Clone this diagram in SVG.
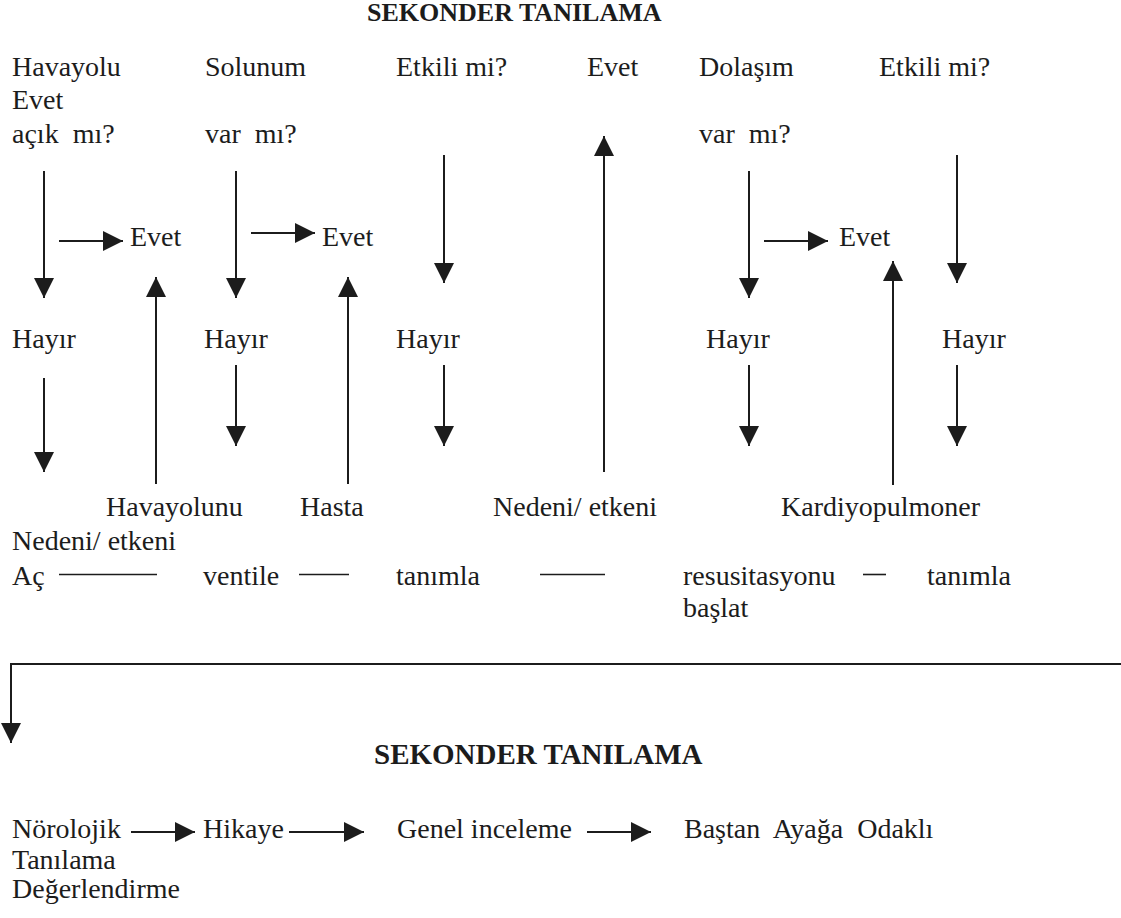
<svg xmlns="http://www.w3.org/2000/svg" width="1121" height="918" viewBox="0 0 1121 918">
<defs>
<style>
text{font-family:"Liberation Serif","Times New Roman",serif;font-size:28px;fill:#1c1c1c;white-space:pre}
text.title{font-weight:700;font-size:26px}
text.title2{font-weight:700;font-size:29px}
.thin{stroke:#1c1c1c;stroke-width:1.6;fill:none}
.arr{stroke:#1c1c1c;stroke-width:2;fill:none;marker-end:url(#ah)}
</style>
<marker id="ah" viewBox="0 0 20 20" refX="20" refY="10" markerWidth="20" markerHeight="20" markerUnits="userSpaceOnUse" orient="auto">
<path d="M0,0 L20,10 L0,20 Z" fill="#1c1c1c"/>
</marker>
</defs>
<rect width="1121" height="918" fill="#ffffff"/>

<g id="title-top"><text class="title" x="367" y="21">SEKONDER TANILAMA</text></g>

<g id="havayolu"><text x="12" y="76">Havayolu</text><text x="12" y="109">Evet</text><text x="12" y="143">açık  mı?</text></g>
<g id="solunum"><text x="205" y="76">Solunum</text><text x="205" y="143">var  mı?</text></g>
<g id="etkili1"><text x="396" y="76">Etkili mi?</text></g>
<g id="evet-top"><text x="587" y="76">Evet</text></g>
<g id="dolasim"><text x="699" y="76">Dolaşım</text><text x="699" y="143">var  mı?</text></g>
<g id="etkili2"><text x="879" y="76">Etkili mi?</text></g>

<g id="evet1"><text x="130" y="246">Evet</text></g>
<g id="evet2"><text x="322" y="246">Evet</text></g>
<g id="evet3"><text x="839" y="246">Evet</text></g>

<g id="hayir1"><text x="12" y="348">Hayır</text></g>
<g id="hayir2"><text x="204" y="348">Hayır</text></g>
<g id="hayir3"><text x="396" y="348">Hayır</text></g>
<g id="hayir4"><text x="706" y="348">Hayır</text></g>
<g id="hayir5"><text x="942" y="348">Hayır</text></g>

<g id="havayolunu-ac"><text x="106" y="516">Havayolunu</text><text x="12" y="550">Nedeni/ etkeni</text><text x="12" y="585">Aç</text></g>
<g id="hasta-ventile"><text x="300" y="516">Hasta</text><text x="203" y="585">ventile</text></g>
<g id="nedeni-tanimla"><text x="493" y="516">Nedeni/ etkeni</text><text x="396" y="585">tanımla</text></g>
<g id="kpr"><text x="781" y="516">Kardiyopulmoner</text><text x="683" y="585">resusitasyonu</text><text x="683" y="617">başlat</text></g>
<g id="tanimla2"><text x="927" y="585">tanımla</text></g>

<g id="title-bottom"><text class="title2" x="374" y="764">SEKONDER TANILAMA</text></g>

<g id="norolojik"><text x="12" y="838">Nörolojik</text><text x="12" y="869">Tanılama</text><text x="12" y="898">Değerlendirme</text></g>
<g id="hikaye"><text x="203" y="838">Hikaye</text></g>
<g id="genel"><text x="397" y="838">Genel inceleme</text></g>
<g id="bastan"><text x="684" y="838">Baştan  Ayağa  Odaklı</text></g>

<g id="connectors">
<line class="arr" x1="44" y1="171" x2="44" y2="298"/>
<line class="arr" x1="59" y1="241" x2="123" y2="241"/>
<line class="arr" x1="156" y1="484" x2="156" y2="277"/>
<line class="arr" x1="236" y1="171" x2="236" y2="298"/>
<line class="arr" x1="251" y1="233" x2="315" y2="233"/>
<line class="arr" x1="348" y1="484" x2="348" y2="277"/>
<line class="arr" x1="444" y1="155" x2="444" y2="283"/>
<line class="arr" x1="604" y1="472" x2="604" y2="136"/>
<line class="arr" x1="749" y1="171" x2="749" y2="298"/>
<line class="arr" x1="764" y1="241" x2="828" y2="241"/>
<line class="arr" x1="893" y1="485" x2="893" y2="261"/>
<line class="arr" x1="957" y1="155" x2="957" y2="283"/>

<line class="arr" x1="44" y1="378" x2="44" y2="472"/>
<line class="arr" x1="236" y1="365" x2="236" y2="446"/>
<line class="arr" x1="444" y1="365" x2="444" y2="446"/>
<line class="arr" x1="749" y1="365" x2="749" y2="446"/>
<line class="arr" x1="957" y1="365" x2="957" y2="446"/>

<line class="thin" x1="59" y1="574.5" x2="157" y2="574.5"/>
<line class="thin" x1="299" y1="574.5" x2="349" y2="574.5"/>
<line class="thin" x1="540" y1="574.5" x2="605" y2="574.5"/>
<line class="thin" x1="863" y1="574.5" x2="886" y2="574.5"/>

<path class="arr" d="M1121,664 L11,664 L11,743"/>

<line class="arr" x1="131" y1="832" x2="195" y2="832"/>
<line class="arr" x1="289" y1="832" x2="364" y2="832"/>
<line class="arr" x1="587" y1="832" x2="651" y2="832"/>
</g>
</svg>
